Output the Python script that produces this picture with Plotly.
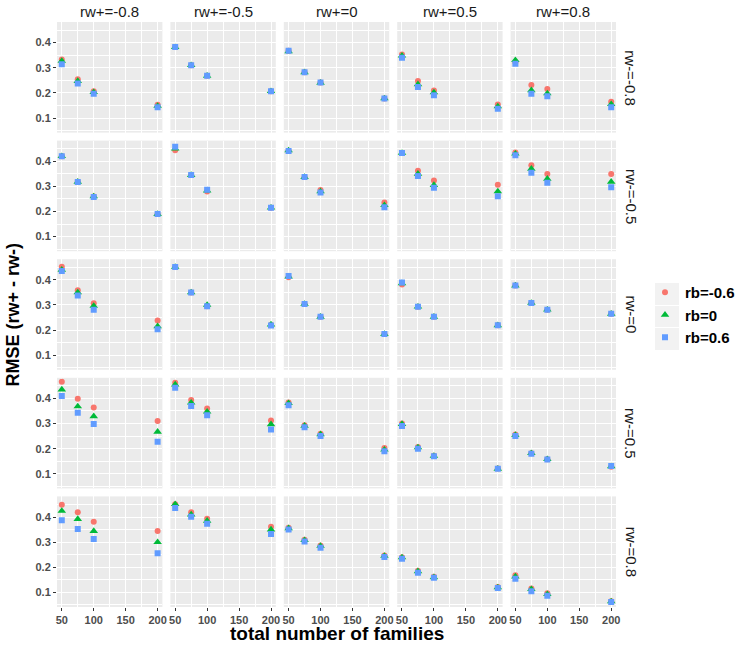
import plotly.graph_objects as go
from plotly.subplots import make_subplots

# ---- data ----
families = [50, 75, 100, 200]
rw_plus_labels = ["rw+=-0.8", "rw+=-0.5", "rw+=0", "rw+=0.5", "rw+=0.8"]
rw_minus_labels = ["rw-=-0.8", "rw-=-0.5", "rw-=0", "rw-=0.5", "rw-=0.8"]
series_names = ["rb=-0.6", "rb=0", "rb=0.6"]

# rows: rw- (top to bottom), cols: rw+ (left to right), values at families
rmse_rb_m06 = [
    [[0.333, 0.254, 0.207, 0.153], [0.383, 0.310, 0.268, 0.207], [0.368, 0.282, 0.241, 0.178], [0.353, 0.247, 0.209, 0.154], [0.322, 0.231, 0.215, 0.165]],
    [[0.420, 0.318, 0.260, 0.190], [0.444, 0.345, 0.280, 0.215], [0.441, 0.337, 0.285, 0.236], [0.433, 0.362, 0.323, 0.306], [0.435, 0.384, 0.349, 0.349]],
    [[0.452, 0.358, 0.307, 0.238], [0.451, 0.350, 0.295, 0.220], [0.410, 0.304, 0.253, 0.184], [0.381, 0.293, 0.253, 0.219], [0.377, 0.308, 0.281, 0.265]],
    [[0.466, 0.399, 0.364, 0.310], [0.462, 0.394, 0.360, 0.312], [0.384, 0.293, 0.259, 0.203], [0.300, 0.207, 0.172, 0.121], [0.256, 0.182, 0.158, 0.128]],
    [[0.449, 0.419, 0.381, 0.344], [0.451, 0.419, 0.393, 0.361], [0.357, 0.310, 0.287, 0.247], [0.240, 0.186, 0.162, 0.122], [0.168, 0.116, 0.097, 0.065]],
]
rmse_rb_0 = [
    [[0.327, 0.247, 0.203, 0.148], [0.382, 0.310, 0.268, 0.207], [0.365, 0.282, 0.240, 0.178], [0.348, 0.234, 0.202, 0.146], [0.330, 0.210, 0.198, 0.155]],
    [[0.420, 0.318, 0.260, 0.190], [0.450, 0.345, 0.283, 0.215], [0.443, 0.337, 0.280, 0.225], [0.433, 0.350, 0.305, 0.280], [0.430, 0.370, 0.330, 0.318]],
    [[0.440, 0.350, 0.296, 0.215], [0.451, 0.350, 0.300, 0.222], [0.413, 0.304, 0.253, 0.184], [0.386, 0.293, 0.253, 0.219], [0.377, 0.308, 0.281, 0.265]],
    [[0.435, 0.368, 0.329, 0.267], [0.455, 0.383, 0.347, 0.297], [0.381, 0.291, 0.257, 0.196], [0.298, 0.205, 0.171, 0.120], [0.254, 0.182, 0.158, 0.130]],
    [[0.424, 0.392, 0.344, 0.300], [0.451, 0.410, 0.385, 0.350], [0.355, 0.308, 0.285, 0.245], [0.239, 0.184, 0.160, 0.120], [0.163, 0.113, 0.093, 0.064]],
]
rmse_rb_p06 = [
    [[0.314, 0.237, 0.197, 0.143], [0.383, 0.310, 0.268, 0.207], [0.368, 0.282, 0.241, 0.178], [0.340, 0.223, 0.191, 0.137], [0.316, 0.197, 0.187, 0.143]],
    [[0.420, 0.317, 0.258, 0.190], [0.458, 0.345, 0.286, 0.215], [0.441, 0.337, 0.276, 0.217], [0.433, 0.341, 0.294, 0.261], [0.424, 0.354, 0.314, 0.296]],
    [[0.435, 0.338, 0.281, 0.203], [0.451, 0.350, 0.295, 0.218], [0.415, 0.304, 0.253, 0.184], [0.389, 0.293, 0.253, 0.219], [0.377, 0.308, 0.281, 0.265]],
    [[0.410, 0.343, 0.298, 0.228], [0.442, 0.370, 0.333, 0.276], [0.373, 0.285, 0.250, 0.190], [0.290, 0.200, 0.170, 0.120], [0.250, 0.180, 0.157, 0.131]],
    [[0.387, 0.352, 0.313, 0.256], [0.436, 0.401, 0.373, 0.332], [0.350, 0.303, 0.278, 0.241], [0.234, 0.178, 0.158, 0.118], [0.154, 0.105, 0.087, 0.062]],
]
x_ticks = [50, 100, 150, 200]
y_ticks = [0.1, 0.2, 0.3, 0.4]

# ---- styling ----
colors = ["#F8766D", "#00BA38", "#619CFF"]
symbols = ["circle", "triangle-up", "square"]
sizes = [6, 7.5, 6]
FONT = "Liberation Sans, Arial, sans-serif"

W, H = 750, 645
L, R, T, B = 57, 134, 22, 38
PW, PH = W - L - R, H - T - B

fig = make_subplots(rows=5, cols=5, horizontal_spacing=8 / PW, vertical_spacing=8 / PH)

all_series = [rmse_rb_m06, rmse_rb_0, rmse_rb_p06]
for r in range(5):
    for c in range(5):
        for s, data in enumerate(all_series):
            fig.add_trace(go.Scatter(
                x=families, y=data[r][c], mode="markers", name=series_names[s],
                legendgroup=series_names[s], showlegend=(r == 0 and c == 0),
                marker=dict(color=colors[s], symbol=symbols[s], size=sizes[s], line=dict(width=0)),
            ), row=r + 1, col=c + 1)

for r in range(5):
    for c in range(5):
        fig.update_xaxes(
            range=[42.5, 207.5], tickvals=x_ticks, showticklabels=(r == 4),
            ticks="outside" if r == 4 else "", ticklen=3, tickcolor="#333333",
            showgrid=True, gridcolor="white", gridwidth=1.1, zeroline=False,
            minor=dict(tickvals=[75, 125, 175], showgrid=True, gridcolor="white", gridwidth=0.5),
            tickfont=dict(family=FONT, size=11, color="#4D4D4D", weight="bold"),
            showline=False, automargin=False, row=r + 1, col=c + 1)
        fig.update_yaxes(
            range=[0.042, 0.482], tickvals=y_ticks, showticklabels=(c == 0),
            ticks="outside" if c == 0 else "", ticklen=3, tickcolor="#333333",
            showgrid=True, gridcolor="white", gridwidth=1.1, zeroline=False,
            minor=dict(tickvals=[0.05, 0.15, 0.25, 0.35, 0.45], showgrid=True, gridcolor="white", gridwidth=0.5),
            tickfont=dict(family=FONT, size=11, color="#4D4D4D", weight="bold"),
            showline=False, automargin=False, row=r + 1, col=c + 1)


def px_x(p):
    return (p - L) / PW


def px_y(p):
    return (H - B - p) / PH


annotations = []
for c, lab in enumerate(rw_plus_labels):
    ax = fig.layout["xaxis" if c == 0 else f"xaxis{c + 1}"]
    xc = (ax.domain[0] + ax.domain[1]) / 2
    annotations.append(dict(text=lab, x=xc, y=px_y(11), xref="paper", yref="paper",
                            showarrow=False, font=dict(family=FONT, size=15, color="#1A1A1A"),
                            xanchor="center", yanchor="middle"))
for r, lab in enumerate(rw_minus_labels):
    ax = fig.layout["yaxis" if r == 0 else f"yaxis{r * 5 + 1}"]
    yc = (ax.domain[0] + ax.domain[1]) / 2
    annotations.append(dict(text=lab, x=px_x(631), y=yc, xref="paper", yref="paper",
                            showarrow=False, textangle=90, font=dict(family=FONT, size=15, color="#1A1A1A"),
                            xanchor="center", yanchor="middle"))
annotations.append(dict(text="<b>RMSE (rw+ - rw-)</b>", x=px_x(12), y=0.5, xref="paper", yref="paper",
                        showarrow=False, textangle=-90, font=dict(family=FONT, size=18, color="black"),
                        xanchor="center", yanchor="middle"))
annotations.append(dict(text="<b>total number of families</b>", x=0.5, y=px_y(633), xref="paper", yref="paper",
                        showarrow=False, font=dict(family=FONT, size=19, color="black"),
                        xanchor="center", yanchor="middle"))

shapes = []
for (y0, y1) in [(283, 305), (306, 327), (328, 350)]:
    shapes.append(dict(type="rect", xref="paper", yref="paper", x0=px_x(655), x1=px_x(679),
                       y0=px_y(y1), y1=px_y(y0), fillcolor="#F2F2F2", line=dict(width=0), layer="below"))

fig.update_layout(
    width=W, height=H, margin=dict(l=L, r=R, t=T, b=B, autoexpand=False),
    paper_bgcolor="white", plot_bgcolor="#EBEBEB",
    annotations=annotations, shapes=shapes,
    legend=dict(x=px_x(645), y=px_y(276), xanchor="left", yanchor="top",
                font=dict(family=FONT, size=15, color="black", weight="bold"),
                bgcolor="rgba(0,0,0,0)", tracegroupgap=0, itemsizing="trace"),
    font=dict(family=FONT),
)

fig.write_html("out.html", config={"displayModeBar": False},
               post_script="document.body.style.margin='0';document.body.style.padding='0';")
